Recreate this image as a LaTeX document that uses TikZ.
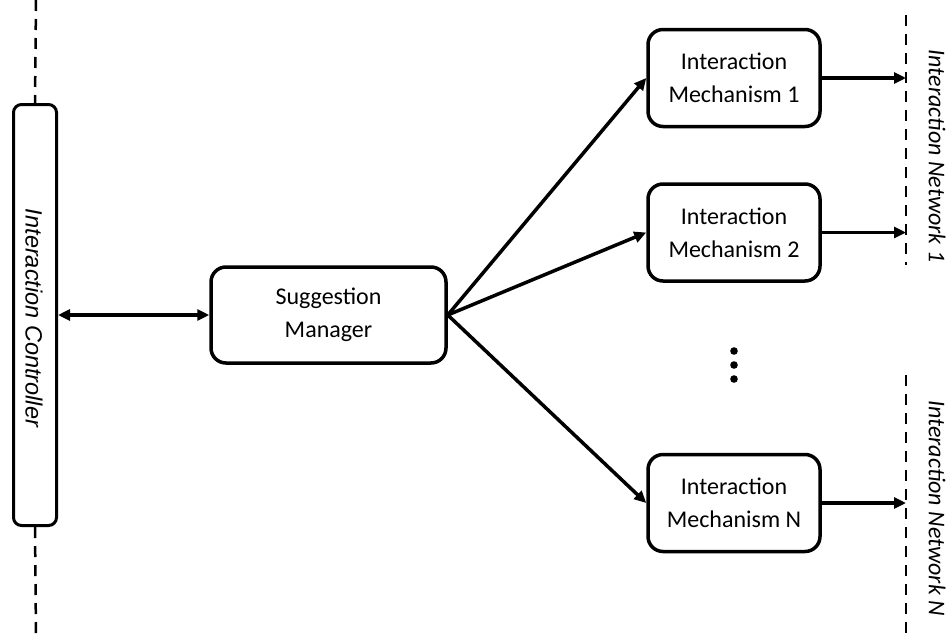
\documentclass[tikz,border=0pt]{standalone}
\usepackage{fontspec}
\setmainfont{Carlito}
\newfontfamily\ctrlfont{Liberation Sans}
\usetikzlibrary{arrows.meta}
\begin{document}
\begin{tikzpicture}[x=1pt,y=-1pt,
  box/.style={draw, fill=white, line width=3.5pt, rounded corners=15pt, align=center,
    font=\fontsize{24}{33}\selectfont, inner sep=0pt},
  mech/.style={box, minimum width=172pt, minimum height=97pt},
  tip/.tip={Triangle[length=12pt,width=11pt]},
  link/.style={line width=3.5pt, -tip},
  biglink/.style={line width=3.5pt, tip-tip},
  netline/.style={line width=2.5pt, dash pattern=on 11pt off 8pt},
  sidelabel/.style={rotate=-90, inner sep=0pt},
]
\useasboundingbox (0,0) rectangle (949,637);

% interaction controller bar on the left
\coordinate (ctop) at (36,0);
\coordinate (cbot) at (36,637);
\node[box, line width=3pt, rounded corners=8pt, minimum width=43pt, minimum height=421pt] (ctrl) at (35,315) {};
\node[sidelabel, font=\ctrlfont\fontsize{23.5}{28}\itshape\selectfont] (ctrllabel) at (34,318) {Interaction Controller};
\draw[netline] (ctop) -- (ctrl.north);
\draw[netline] (ctrl.south) -- (cbot);

% suggestion manager
\node[box, minimum width=235pt, minimum height=96pt] (sm) at (328.5,315) {Suggestion\\Manager};

% interaction mechanisms
\node[mech] (im1) at (734,78) {Interaction\\Mechanism 1};
\node[mech] (im2) at (734,232.5) {Interaction\\Mechanism 2};
\node[mech] (imn) at (734,503) {Interaction\\Mechanism N};

% ellipsis between mechanisms
\fill (734,351) circle (3.8) (734,365) circle (3.8) (734,379) circle (3.8);

% interaction networks
\coordinate (n1top) at (906,15);
\coordinate (n1bot) at (906,265);
\coordinate (nntop) at (906,375);
\coordinate (nnbot) at (906,637);
\draw[netline] (n1top) -- (n1bot);
\draw[netline] (nntop) -- (nnbot);
\node[sidelabel, font=\itshape\fontsize{24}{28}\selectfont] (net1) at (937,156) {Interaction Network 1};
\node[sidelabel, font=\itshape\fontsize{24}{28}\selectfont] (netn) at (937,508) {Interaction Network N};

% connectors
\draw[biglink] (ctrl.east) -- (sm.west);
\draw[link] (sm.east) -- (im1.west);
\draw[link] (sm.east) -- (im2.west);
\draw[link] (sm.east) -- (imn.west);
\coordinate (t1) at (im1.east -| n1top);
\coordinate (t2) at (im2.east -| n1top);
\coordinate (tn) at (imn.east -| nntop);
\draw[link] (im1.east) -- (t1);
\draw[link] (im2.east) -- (t2);
\draw[link] (imn.east) -- (tn);
\end{tikzpicture}
\end{document}
